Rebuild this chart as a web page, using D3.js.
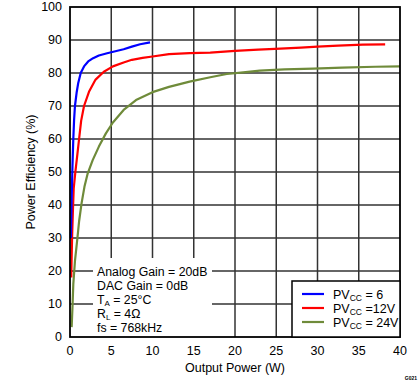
<!DOCTYPE html>
<html><head><meta charset="utf-8">
<script src="https://cdn.jsdelivr.net/npm/d3@7"></script>
<style>body{margin:0;background:#fff}svg{display:block;font-family:"Liberation Sans",Arial,sans-serif}</style>
</head><body>
<svg id="c" width="419" height="382"></svg>
<script>
const xTicks = [0,5,10,15,20,25,30,35,40];
const yTicks = [0,10,20,30,40,50,60,70,80,90,100];
const seriesNames = ["PV_CC = 6","PV_CC =12V","PV_CC = 24V"];
const seriesColors = ["#0000ff","#ff0000","#6f8b3a"];
const pv6 = [[0.1,30],[0.2,42],[0.3,52],[0.4,60],[0.5,66],[0.6,70],[0.8,74],[1,77],[1.3,80],[1.7,82],[2.2,83.5],[2.8,84.5],[3.5,85.3],[4.5,86],[5.5,86.6],[6.5,87.2],[7.5,88],[8.5,88.7],[9.7,89.3]];
const pv12 = [[0.15,18],[0.25,30],[0.35,38],[0.45,45],[0.65,50],[0.9,55.5],[1.1,60],[1.35,65.5],[1.7,70],[2.3,74.3],[3.1,78],[4.1,80.4],[5.2,82],[6.5,83.2],[7.5,84],[8.8,84.6],[10,85],[12,85.7],[14.5,86],[17,86.2],[20,86.7],[22.8,87.1],[25.5,87.4],[28,87.7],[30,88],[32.5,88.3],[35.5,88.6],[38.2,88.7]];
const pv24 = [[0.2,3],[0.3,9],[0.4,16],[0.6,23],[0.9,30],[1.1,35],[1.4,40.5],[1.75,45.5],[2.15,49.6],[2.75,53.6],[3.5,57.7],[4.35,61.7],[5.2,65],[6.5,68.8],[8,71.8],[10,74.2],[12,75.8],[14.5,77.4],[17,78.7],[19,79.7],[21,80.2],[23,80.7],[26,81.1],[29.5,81.3],[33,81.6],[37,81.9],[40,82]];
const notes = ["Analog Gain = 20dB","DAC Gain = 0dB","T_A = 25°C","R_L = 4Ω","fs = 768kHz"];

const svg = d3.select("#c");
const L=70,R=400,T=7,B=337;
const x = d3.scaleLinear().domain([0,40]).range([L,R]);
const y = d3.scaleLinear().domain([0,100]).range([B,T]);

// gridlines
const g = svg.append("g");
g.selectAll(".vx").data(xTicks.slice(1,-1)).enter().append("line")
 .attr("x1",d=>x(d)).attr("x2",d=>x(d)).attr("y1",T).attr("y2",B)
 .attr("stroke","#333").attr("stroke-width",1.5);
g.selectAll(".hy").data(yTicks.slice(1,-1)).enter().append("line")
 .attr("x1",L).attr("x2",R).attr("y1",d=>y(d)).attr("y2",d=>y(d))
 .attr("stroke","#333").attr("stroke-width",1.5);

// tick labels
svg.append("g").selectAll("text").data(yTicks).enter().append("text")
 .attr("x",L-8).attr("y",d=>y(d)).attr("dy","0.35em").attr("text-anchor","end")
 .attr("font-size",12.5).text(d=>d);
svg.append("g").selectAll("text").data(xTicks).enter().append("text")
 .attr("x",d=>x(d)).attr("y",B+18).attr("text-anchor","middle")
 .attr("font-size",12.5).text(d=>d);

// annotation background
svg.append("rect").attr("x",93).attr("y",258).attr("width",119).attr("height",B-258).attr("fill","#fff");

// lines
const line = d3.line().x(d=>x(d[0])).y(d=>y(d[1]));
[pv24,pv12,pv6].forEach((s,i)=>{
  svg.append("path").datum(s).attr("d",line).attr("fill","none")
   .attr("stroke",seriesColors[2-i]).attr("stroke-width",2.2).attr("stroke-linejoin","round");
});

// frame
svg.append("rect").attr("x",L).attr("y",T).attr("width",R-L).attr("height",B-T)
 .attr("fill","none").attr("stroke","#000").attr("stroke-width",1.8);

// annotation text
const nt = svg.append("g").attr("font-size",12.3).attr("fill","#000");
notes.forEach((n,i)=>{
  const t = nt.append("text").attr("x",97).attr("y",276+i*14);
  const m = n.match(/^(\w)_(\w)(.*)$/);
  if(m){ t.append("tspan").text(m[1]); t.append("tspan").attr("font-size",8).attr("dy",2).text(m[2]); t.append("tspan").attr("dy",-2).text(m[3]); }
  else t.text(n);
});

// legend
const lg = svg.append("g");
lg.append("rect").attr("x",292).attr("y",281).attr("width",R-292).attr("height",B-281)
 .attr("fill","#fff").attr("stroke","#000").attr("stroke-width",1.5);
seriesNames.forEach((n,i)=>{
  const yy = 294+i*14;
  lg.append("line").attr("x1",302).attr("x2",324).attr("y1",yy).attr("y2",yy)
   .attr("stroke",seriesColors[i]).attr("stroke-width",2.2);
  const parts = n.split("_CC");
  const t = lg.append("text").attr("x",333).attr("y",yy+4.5).attr("font-size",12.5);
  t.append("tspan").text(parts[0]);
  t.append("tspan").attr("font-size",8.5).attr("dy",2.5).text("CC");
  t.append("tspan").attr("dy",-2.5).text(parts[1]);
});

// axis titles
svg.append("text").attr("x",(L+R)/2).attr("y",372).attr("text-anchor","middle").attr("font-size",12.5).text("Output Power (W)");
svg.append("text").attr("transform",`translate(35,${(T+B)/2}) rotate(-90)`).attr("text-anchor","middle").attr("font-size",12.5).text("Power Efficiency (%)");
svg.append("text").attr("x",417).attr("y",380).attr("text-anchor","end").attr("font-size",5).attr("font-weight","bold").text("G021");
</script>
</body></html>
